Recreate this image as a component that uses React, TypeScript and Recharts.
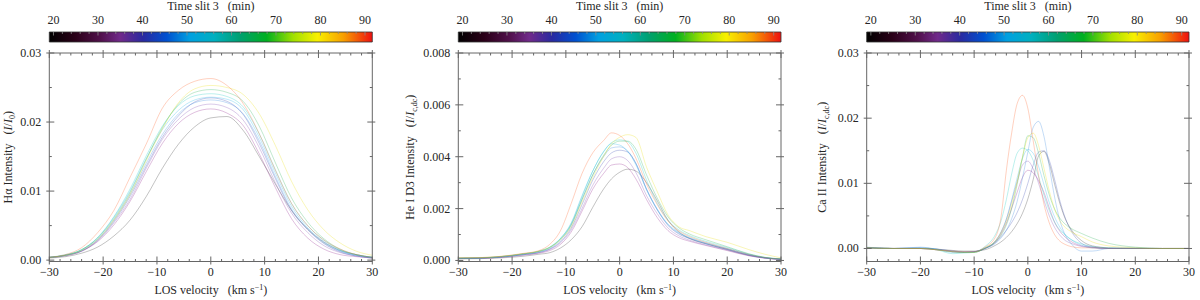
import React from 'react';
import { LineChart, Line, XAxis, YAxis, ComposedChart, ReferenceArea } from 'recharts';

// ---------- time / colour meta ----------
const TIMES = [20, 27, 33, 40, 47, 53, 58, 63, 78, 86];
const TIME_COLORS = ['#000000', '#8b1a89', '#7b3fb0', '#3040b0', '#2a80e0', '#18b0e8', '#10c8c0', '#20b050', '#e8e000', '#ff5a1e'];

// ---------- colour bar ----------
const CB_DOMAIN = [19.06, 91.64];
const CB_TICKS = [20, 22, 24, 26, 28, 30, 32, 34, 36, 38, 40, 42, 44, 46, 48, 50, 52, 54, 56, 58, 60, 62, 64, 66, 68, 70, 72, 74, 76, 78, 80, 82, 84, 86, 88, 90];
const CB_LABELS = [20, 30, 40, 50, 60, 70, 80, 90];
const CB_STOPS = [0, 0.08, 0.157, 0.22, 0.29, 0.363, 0.435, 0.51, 0.59, 0.673, 0.755, 0.83, 0.91, 1];
const CB_STOP_COLORS = ['#000000', '#2a0018', '#50104a', '#702a8a', '#2a2aa0', '#0050d0', '#00a0e0', '#00b0c0', '#00a070', '#00b020', '#a0e000', '#f8f000', '#f8a000', '#ee1010'];

// ---------- shared x axis ----------
const X_TICKS = [-30, -28, -26, -24, -22, -20, -18, -16, -14, -12, -10, -8, -6, -4, -2, 0, 2, 4, 6, 8, 10, 12, 14, 16, 18, 20, 22, 24, 26, 28, 30];
const X_LABELS = [-30, -20, -10, 0, 10, 20, 30];

// ---------- H alpha (values in 1e-3 I/I0) ----------
const HA_VEL = [-30, -27, -24, -21, -18, -15, -12, -9, -6, -3, 0, 3, 6, 9, 12, 15, 18, 21, 24, 27, 30];
const HA_T20 = [0.3, 0.5, 1.0, 1.9, 3.5, 5.8, 9.2, 13.3, 16.8, 19.3, 20.6, 20.8, 18.8, 15.0, 11.0, 7.2, 4.5, 2.6, 1.4, 0.8, 0.4];
const HA_T27 = [0.4, 0.6, 1.3, 2.7, 5.1, 8.5, 12.8, 16.9, 19.8, 21.4, 21.9, 21.3, 19.5, 15.4, 10.5, 6.0, 3.2, 1.6, 0.8, 0.5, 0.3];
const HA_T33 = [0.4, 0.7, 1.3, 2.8, 5.4, 8.8, 13.3, 17.5, 20.4, 22.1, 22.6, 22.1, 20.3, 16.3, 11.2, 6.8, 4.0, 2.1, 1.1, 0.6, 0.3];
const HA_T40 = [0.4, 0.7, 1.3, 2.9, 5.6, 9.2, 13.6, 17.8, 20.9, 22.9, 23.5, 23.0, 21.1, 16.9, 11.8, 7.2, 4.4, 2.4, 1.2, 0.6, 0.3];
const HA_T47 = [0.4, 0.7, 1.4, 3.0, 5.8, 9.5, 14.0, 18.2, 21.2, 22.8, 23.2, 22.8, 21.2, 17.3, 12.1, 7.4, 4.5, 2.5, 1.3, 0.7, 0.4];
const HA_T53 = [0.4, 0.7, 1.5, 3.2, 6.2, 10.0, 14.7, 18.9, 21.7, 23.2, 23.6, 23.3, 21.8, 17.8, 12.6, 7.8, 4.7, 2.7, 1.4, 0.7, 0.4];
const HA_T58 = [0.4, 0.8, 1.5, 3.3, 6.3, 10.3, 15.1, 19.4, 22.4, 23.8, 24.1, 23.7, 22.2, 18.3, 13.1, 8.2, 5.0, 2.9, 1.5, 0.8, 0.4];
const HA_T63 = [0.4, 0.7, 1.5, 3.2, 6.0, 9.8, 14.6, 19.2, 22.6, 24.3, 24.7, 24.3, 23.0, 19.4, 14.1, 9.0, 5.5, 3.1, 1.6, 0.8, 0.4];
const HA_T78 = [0.4, 0.7, 1.4, 3.0, 5.8, 9.5, 14.4, 19.0, 22.8, 24.8, 25.3, 25.0, 24.0, 21.2, 16.6, 11.4, 7.3, 4.4, 2.5, 1.3, 0.7];
const HA_T86 = [0.4, 0.8, 1.8, 4.0, 7.2, 12.0, 16.8, 22.0, 24.6, 25.9, 26.3, 25.3, 22.7, 18.3, 13.0, 8.2, 5.0, 2.9, 1.6, 0.8, 0.4];

// ---------- He I D3 (values in 1e-3 I/Ic,dc) ----------
const HE_VEL = [-30, -26, -22, -18, -15, -13, -11, -9, -7, -5, -3, -1.5, 0, 1.5, 3, 5, 7, 9, 11, 13, 16, 20, 24, 27, 30];
const HE_T20 = [0.06, 0.07, 0.10, 0.16, 0.24, 0.30, 0.48, 0.80, 1.30, 2.05, 2.75, 3.15, 3.40, 3.52, 3.45, 3.00, 2.30, 1.55, 1.10, 0.85, 0.65, 0.42, 0.20, 0.10, 0.04];
const HE_T27 = [0.07, 0.08, 0.12, 0.20, 0.28, 0.38, 0.62, 1.10, 1.90, 2.75, 3.35, 3.68, 3.72, 3.58, 3.15, 2.35, 1.65, 1.15, 0.88, 0.74, 0.58, 0.38, 0.18, 0.09, 0.04];
const HE_T33 = [0.08, 0.09, 0.13, 0.22, 0.30, 0.42, 0.68, 1.18, 2.00, 2.90, 3.55, 3.92, 4.00, 3.85, 3.40, 2.50, 1.80, 1.25, 0.95, 0.78, 0.60, 0.40, 0.19, 0.09, 0.04];
const HE_T40 = [0.08, 0.09, 0.13, 0.22, 0.31, 0.44, 0.72, 1.25, 2.15, 3.10, 3.80, 4.15, 4.25, 4.18, 3.75, 2.75, 1.95, 1.35, 1.02, 0.84, 0.64, 0.43, 0.21, 0.10, 0.05];
const HE_T47 = [0.08, 0.10, 0.14, 0.24, 0.33, 0.46, 0.78, 1.35, 2.35, 3.30, 4.00, 4.34, 4.38, 4.22, 3.75, 2.75, 1.98, 1.38, 1.05, 0.86, 0.66, 0.44, 0.22, 0.10, 0.05];
const HE_T53 = [0.09, 0.10, 0.15, 0.25, 0.35, 0.50, 0.85, 1.45, 2.50, 3.45, 4.18, 4.50, 4.45, 4.20, 3.70, 2.72, 1.95, 1.40, 1.08, 0.88, 0.68, 0.46, 0.23, 0.11, 0.05];
const HE_T58 = [0.09, 0.10, 0.15, 0.25, 0.36, 0.52, 0.85, 1.42, 2.45, 3.45, 4.20, 4.55, 4.65, 4.58, 4.15, 3.10, 2.20, 1.55, 1.18, 0.96, 0.74, 0.50, 0.25, 0.12, 0.06];
const HE_T63 = [0.09, 0.10, 0.15, 0.25, 0.35, 0.50, 0.82, 1.38, 2.35, 3.30, 4.05, 4.45, 4.60, 4.60, 4.30, 3.30, 2.40, 1.68, 1.26, 1.02, 0.80, 0.53, 0.26, 0.12, 0.06];
const HE_T78 = [0.10, 0.11, 0.16, 0.26, 0.36, 0.50, 0.80, 1.30, 2.25, 3.20, 4.00, 4.50, 4.75, 4.85, 4.75, 3.60, 2.65, 1.75, 1.30, 1.15, 0.92, 0.70, 0.42, 0.24, 0.10];
const HE_T86 = [0.10, 0.11, 0.16, 0.27, 0.38, 0.62, 1.15, 2.20, 3.35, 4.15, 4.62, 4.92, 4.82, 4.50, 3.95, 2.95, 2.15, 1.52, 1.14, 0.92, 0.70, 0.46, 0.23, 0.11, 0.05];

// ---------- Ca II (values in 1e-3 I/Ic,dc) ----------
const CA_VEL = [-30, -25, -20, -17, -14, -12, -10, -8, -6, -5, -4, -3, -2, -1, 0, 1, 2, 3, 4, 5, 6, 7, 8, 10, 12, 15, 20, 25, 30];
const CA_T20 = [0.1, 0.0, 0.0, -0.1, -0.3, -0.4, -0.4, -0.2, 0.5, 1.0, 1.7, 2.6, 3.8, 5.4, 7.6, 10.6, 14.2, 14.9, 13.0, 9.8, 6.8, 4.5, 3.0, 1.2, 0.4, 0.1, 0.0, 0.0, 0.0];
const CA_T27 = [0.1, 0.0, 0.0, -0.2, -0.5, -0.6, -0.5, 0.0, 1.0, 2.2, 3.9, 6.2, 8.6, 10.9, 12.0, 11.6, 10.4, 8.6, 6.2, 4.0, 2.6, 1.7, 1.1, 0.4, 0.2, 0.0, 0.0, 0.0, 0.0];
const CA_T33 = [0.1, 0.0, 0.0, -0.2, -0.5, -0.6, -0.5, 0.0, 1.2, 2.5, 4.5, 7.3, 10.2, 12.8, 13.4, 12.2, 10.0, 7.4, 5.0, 3.2, 2.0, 1.2, 0.8, 0.3, 0.1, 0.0, 0.0, 0.0, 0.0];
const CA_T40 = [0.1, 0.0, 0.1, -0.1, -0.4, -0.5, -0.5, 0.0, 1.0, 1.8, 2.8, 4.0, 5.5, 7.5, 10.0, 12.8, 14.8, 15.0, 13.5, 10.5, 7.2, 4.6, 2.8, 0.8, 0.2, 0.0, 0.0, 0.0, 0.0];
const CA_T47 = [0.2, 0.0, 0.2, -0.1, -0.4, -0.6, -0.6, 0.0, 0.8, 1.6, 2.8, 4.6, 7.2, 10.8, 14.8, 18.6, 19.5, 17.2, 12.5, 7.8, 4.2, 2.0, 0.8, -0.4, -0.4, 0.0, 0.1, 0.0, 0.0];
const CA_T53 = [0.1, 0.0, 0.1, -0.1, -0.6, -0.6, -0.5, 0.1, 1.2, 2.5, 4.5, 7.5, 10.8, 13.8, 15.2, 14.6, 12.6, 9.8, 7.0, 4.8, 3.2, 2.1, 1.4, 0.5, 0.1, 0.0, 0.0, 0.0, 0.0];
const CA_T58 = [0.1, 0.0, 0.0, -0.2, -0.8, -0.7, -0.6, 0.3, 2.2, 4.2, 7.5, 11.5, 14.6, 15.4, 15.0, 13.5, 11.0, 8.2, 5.8, 4.0, 2.8, 2.0, 1.4, 0.7, 0.3, 0.1, 0.0, 0.0, 0.0];
const CA_T63 = [0.1, 0.0, 0.0, -0.2, -0.5, -0.6, -0.6, 0.0, 1.0, 2.0, 3.6, 6.2, 9.8, 14.0, 17.3, 17.0, 14.6, 11.2, 8.2, 6.0, 4.6, 3.7, 3.1, 2.3, 1.6, 0.8, 0.2, 0.0, 0.0];
const CA_T78 = [0.1, 0.0, 0.0, -0.2, -0.5, -0.6, -0.6, 0.1, 1.2, 2.4, 4.2, 6.8, 10.2, 14.0, 17.0, 17.7, 15.8, 12.3, 8.8, 6.0, 4.2, 3.2, 2.6, 1.8, 1.0, 0.4, 0.1, 0.0, 0.0];
const CA_T86 = [0.1, 0.0, 0.0, -0.2, -0.4, -0.5, -0.5, 0.2, 1.8, 4.8, 12.0, 17.8, 22.2, 23.5, 21.5, 16.5, 11.2, 6.8, 3.9, 2.1, 1.1, 0.6, 0.3, 0.1, 0.1, 0.0, 0.0, 0.0, 0.0];

// ---------- y axis ticks ----------
const HA_Y_TICKS = [0, 0.005, 0.01, 0.015, 0.02, 0.025, 0.03];
const HA_Y_LABELS = [0, 0.01, 0.02, 0.03];
const HE_Y_TICKS = [0, 0.001, 0.002, 0.003, 0.004, 0.005, 0.006, 0.007, 0.008];
const HE_Y_LABELS = [0, 0.002, 0.004, 0.006, 0.008];
const CA_Y_TICKS = [0, 0.005, 0.01, 0.015, 0.02, 0.025, 0.03];
const CA_Y_LABELS = [0, 0.01, 0.02, 0.03];

const UNIT = 1e-3;

function buildTable(vel: number[], series: number[][]) {
  return vel.map((v, i) => {
    const row: Record<string, number> = { v };
    TIMES.forEach((t, k) => {
      row['t' + t] = series[k][i] * UNIT;
    });
    return row;
  });
}

const HA_DATA = buildTable(HA_VEL, [HA_T20, HA_T27, HA_T33, HA_T40, HA_T47, HA_T53, HA_T58, HA_T63, HA_T78, HA_T86]);
const HE_DATA = buildTable(HE_VEL, [HE_T20, HE_T27, HE_T33, HE_T40, HE_T47, HE_T53, HE_T58, HE_T63, HE_T78, HE_T86]);
const CA_DATA = buildTable(CA_VEL, [CA_T20, CA_T27, CA_T33, CA_T40, CA_T47, CA_T53, CA_T58, CA_T63, CA_T78, CA_T86]);
const CB_DATA = [{ x: CB_DOMAIN[0], y: 0 }, { x: CB_DOMAIN[1], y: 1 }];

// ---------- styling ----------
const FONT = '"Liberation Serif", "Times New Roman", Times, serif';
const AXIS = '#666';
const TEXT = '#262626';
const FS = 12;
const PLOT_TOP = 53;
const PLOT_BOTTOM = 261.5;
const CHART_H = 300;
const PANEL_W = 400;
const AX = 1; // axis band size

const near = (arr: number[], v: number) => arr.some((a) => Math.abs(a - v) < 1e-9);
const fmtNum = (v: number, d: number) => (v < 0 ? '\u2212' + Math.abs(v).toFixed(d) : v.toFixed(d));

const makeXTick = (labels: number[], withLabel: boolean, dir: number) => (props: any) => {
  const { x, y, payload } = props;
  const v = payload.value;
  const major = near(labels, v);
  const inLen = major ? 5 : 2.5;
  const outLen = major ? 3 : 0;
  return (
    <g>
      <line x1={x} x2={x} y1={y - dir * outLen} y2={y + dir * inLen} stroke={AXIS} strokeWidth={1} />
      {withLabel && major ? (
        <text x={x} y={y + 14} textAnchor="middle" fontFamily={FONT} fontSize={FS} fill={TEXT}>
          {fmtNum(v, 0)}
        </text>
      ) : null}
    </g>
  );
};

const makeYTick = (labels: number[], withLabel: boolean, dir: number, digits: number) => (props: any) => {
  const { x, y, payload } = props;
  const v = payload.value;
  const major = near(labels, v);
  const inLen = major ? 5 : 2.5;
  const outLen = major ? 3 : 0;
  return (
    <g>
      <line x1={x - dir * outLen} x2={x + dir * inLen} y1={y} y2={y} stroke={AXIS} strokeWidth={1} />
      {withLabel && major ? (
        <text x={x - 8} y={y} dy="0.33em" textAnchor="end" fontFamily={FONT} fontSize={FS} fill={TEXT}>
          {fmtNum(v, digits)}
        </text>
      ) : null}
    </g>
  );
};

const cbTick = (props: any) => {
  const { x, y, payload } = props;
  const v = payload.value;
  const major = near(CB_LABELS, v);
  return (
    <g>
      <line x1={x} x2={x} y1={y} y2={y + (major ? 3.5 : 2)} stroke="#888" strokeWidth={0.8} />
      {major ? (
        <text x={x} y={y - 8} textAnchor="middle" fontFamily={FONT} fontSize={FS} fill={TEXT}>
          {v}
        </text>
      ) : null}
    </g>
  );
};

type YLabelKind = 'ha' | 'he' | 'ca';

function YTitle({ kind, x, y }: { kind: YLabelKind; x: number; y: number }) {
  const head = kind === 'ha' ? 'H\u03b1 Intensity' : kind === 'he' ? 'He I D3 Intensity' : 'Ca II Intensity';
  const sub = kind === 'ha' ? '0' : 'c,dc';
  return (
    <text
      x={x}
      y={y}
      transform={`rotate(-90, ${x}, ${y})`}
      textAnchor="middle"
      fontFamily={FONT}
      fontSize={FS}
      fill={TEXT}
    >
      <tspan>{head}</tspan>
      <tspan dx={9}>(</tspan>
      <tspan fontStyle="italic">I</tspan>
      <tspan>/</tspan>
      <tspan fontStyle="italic">I</tspan>
      <tspan dy={3} fontSize={8}>{sub}</tspan>
      <tspan dy={-3}>)</tspan>
    </text>
  );
}

function XTitle({ x, y }: { x: number; y: number }) {
  return (
    <text x={x} y={y} textAnchor="middle" fontFamily={FONT} fontSize={FS} fill={TEXT}>
      <tspan>LOS velocity</tspan>
      <tspan dx={9}>(km s</tspan>
      <tspan dy={-4} fontSize={8}>{'\u22121'}</tspan>
      <tspan dy={4}>)</tspan>
    </text>
  );
}

type PanelProps = {
  left: number;
  ml: number;
  mr: number;
  data: Record<string, number>[];
  yDomain: number[];
  yTicks: number[];
  yLabels: number[];
  digits: number;
  kind: YLabelKind;
  yTitleX: number;
};

function ColorBar({ ml, mr }: { ml: number; mr: number }) {
  const cx = ml + (PANEL_W - ml - mr) / 2;
  return (
    <ComposedChart width={PANEL_W} height={46} margin={{ top: 32 - AX, bottom: 4, left: ml, right: mr }} data={CB_DATA}>
      <XAxis
        type="number"
        orientation="top"
        dataKey="x"
        domain={CB_DOMAIN}
        ticks={CB_TICKS}
        interval={0}
        height={AX}
        tickSize={0}
        tickMargin={0}
        tickLine={false}
        axisLine={false}
        tick={cbTick}
        allowDataOverflow
        label={{
          content: () => (
            <text x={cx} y={10} textAnchor="middle" fontFamily={FONT} fontSize={FS} fill={TEXT}>
              <tspan>Time slit 3</tspan>
              <tspan dx={9}>(min)</tspan>
            </text>
          ),
        }}
      />
      <YAxis type="number" dataKey="y" domain={[0, 1]} hide />
      <ReferenceArea
        x1={CB_DOMAIN[0]}
        x2={CB_DOMAIN[1]}
        y1={0}
        y2={1}
        fill="url(#cbGrad)"
        fillOpacity={1}
        stroke="#333"
        strokeWidth={0.8}
        ifOverflow="visible"
      />
    </ComposedChart>
  );
}

function Panel(p: PanelProps) {
  const cx = p.ml + (PANEL_W - p.ml - p.mr) / 2;
  const cy = (PLOT_TOP + PLOT_BOTTOM) / 2;
  return (
    <div style={{ position: 'absolute', left: p.left, top: 0, width: PANEL_W, height: CHART_H }}>
      <div style={{ position: 'absolute', left: 0, top: 0 }}>
        <ColorBar ml={p.ml} mr={p.mr} />
      </div>
      <div style={{ position: 'absolute', left: 0, top: 0 }}>
        <LineChart
          width={PANEL_W}
          height={CHART_H}
          data={p.data}
          margin={{ top: PLOT_TOP - AX, bottom: CHART_H - PLOT_BOTTOM - AX, left: p.ml - AX, right: p.mr - AX }}
        >
          <XAxis
            xAxisId="b"
            dataKey="v"
            type="number"
            domain={[-30, 30]}
            ticks={X_TICKS}
            interval={0}
            height={AX}
            tickSize={0}
            tickMargin={0}
            tickLine={false}
            axisLine={{ stroke: AXIS, strokeWidth: 1 }}
            tick={makeXTick(X_LABELS, true, -1)}
            allowDataOverflow
            label={{ content: () => <XTitle x={cx} y={294} /> }}
          />
          <XAxis
            xAxisId="t"
            dataKey="v"
            type="number"
            orientation="top"
            domain={[-30, 30]}
            ticks={X_TICKS}
            interval={0}
            height={AX}
            tickSize={0}
            tickMargin={0}
            tickLine={false}
            axisLine={{ stroke: AXIS, strokeWidth: 1 }}
            tick={makeXTick(X_LABELS, false, 1)}
            allowDataOverflow
          />
          <YAxis
            yAxisId="l"
            type="number"
            domain={p.yDomain}
            ticks={p.yTicks}
            interval={0}
            width={AX}
            tickSize={0}
            tickMargin={0}
            tickLine={false}
            axisLine={{ stroke: AXIS, strokeWidth: 1 }}
            tick={makeYTick(p.yLabels, true, 1, p.digits)}
            allowDataOverflow
            label={{ content: () => <YTitle kind={p.kind} x={p.yTitleX} y={cy} /> }}
          />
          <YAxis
            yAxisId="r"
            type="number"
            orientation="right"
            domain={p.yDomain}
            ticks={p.yTicks}
            interval={0}
            width={AX}
            tickSize={0}
            tickMargin={0}
            tickLine={false}
            axisLine={{ stroke: AXIS, strokeWidth: 1 }}
            tick={makeYTick(p.yLabels, false, -1, p.digits)}
            allowDataOverflow
          />
          {TIMES.map((t, k) => (
            <Line
              key={t}
              xAxisId="b"
              yAxisId="l"
              type="monotone"
              dataKey={'t' + t}
              stroke={TIME_COLORS[k]}
              strokeOpacity={k === 0 ? 0.24 : 0.28}
              strokeWidth={1}
              dot={false}
              activeDot={false}
              isAnimationActive={false}
            />
          ))}
        </LineChart>
      </div>
    </div>
  );
}

export default function App() {
  return (
    <div style={{ position: 'absolute', left: 0, top: 0, width: 1200, height: 300, background: '#fff', overflow: 'hidden' }}>
      <svg width={0} height={0} style={{ position: 'absolute' }}>
        <defs>
          <linearGradient id="cbGrad" x1="0" x2="1" y1="0" y2="0">
            {CB_STOPS.map((s, i) => (
              <stop key={i} offset={s} stopColor={CB_STOP_COLORS[i]} />
            ))}
          </linearGradient>
        </defs>
      </svg>
      <Panel left={0} ml={49.3} mr={27.7} data={HA_DATA} yDomain={[-0.0002, 0.03]} yTicks={HA_Y_TICKS} yLabels={HA_Y_LABELS} digits={2} kind="ha" yTitleX={12} />
      <Panel left={400} ml={58.3} mr={19} data={HE_DATA} yDomain={[-0.00004, 0.008]} yTicks={HE_Y_TICKS} yLabels={HE_Y_LABELS} digits={3} kind="he" yTitleX={14} />
      <Panel left={800} ml={66.7} mr={11} data={CA_DATA} yDomain={[-0.002, 0.03]} yTicks={CA_Y_TICKS} yLabels={CA_Y_LABELS} digits={2} kind="ca" yTitleX={26} />
    </div>
  );
}
